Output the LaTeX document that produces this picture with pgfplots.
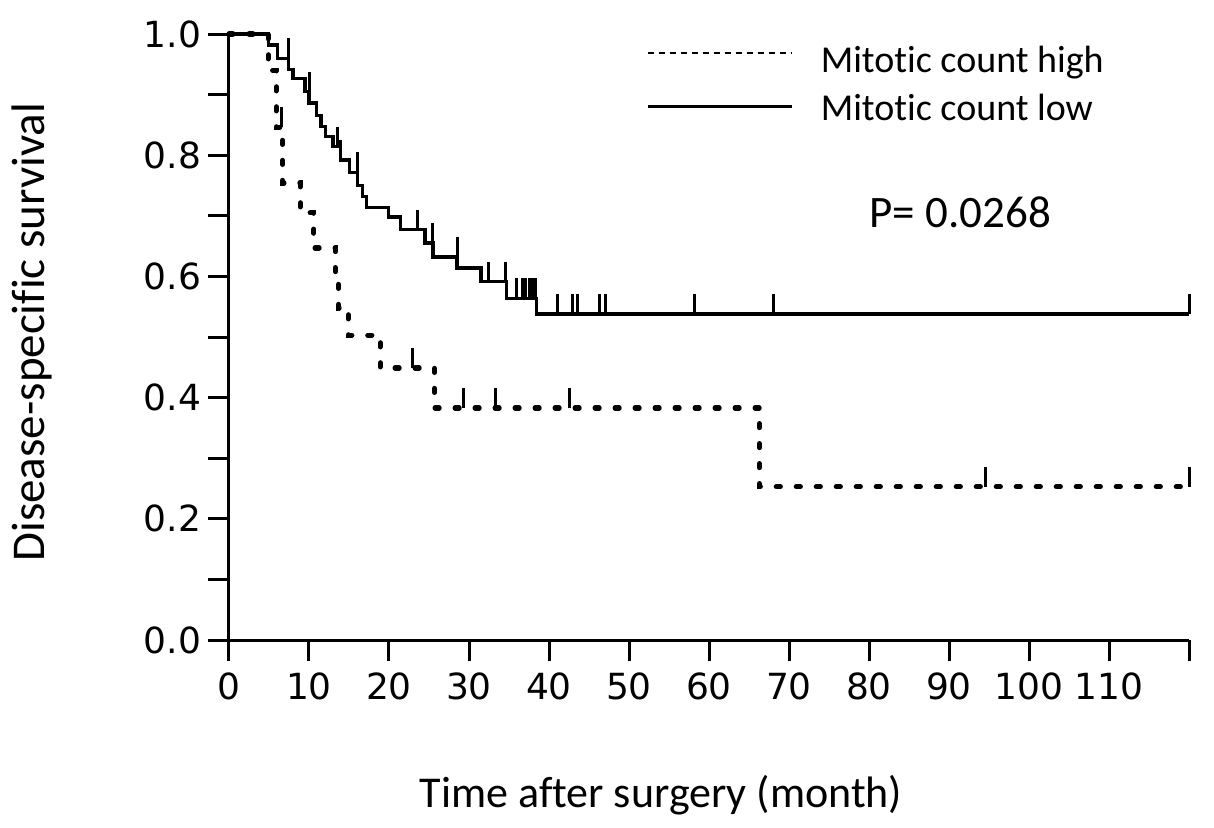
\documentclass[border=0pt]{standalone}
\usepackage{fontspec}
\setmainfont{Carlito}[Ligatures=NoCommon]
\newfontfamily\tickfont{DejaVu Sans}
\usepackage{pgfplots}
\pgfplotsset{compat=1.18}

% censoring tick: short vertical stroke upward from the curve
\pgfdeclareplotmark{cens}{%
  \pgfpathmoveto{\pgfpoint{0pt}{0pt}}%
  \pgfpathlineto{\pgfpoint{0pt}{10pt}}%
  \pgfusepathqstroke}

\begin{document}
\begin{tikzpicture}
\begin{axis}[
  scale only axis, width=480pt, height=303pt,
  xmin=0, xmax=120, ymin=0, ymax=1,
  axis lines*=left,
  axis line style={line width=1.5pt},
  clip=false,
  xtick={0,10,20,30,40,50,60,70,80,90,100,110,120},
  xticklabels={0,10,20,30,40,50,60,70,80,90,100,110,{}},
  ytick={0,0.1,0.2,0.3,0.4,0.5,0.6,0.7,0.8,0.9,1},
  yticklabels={0.0,,0.2,,0.4,,0.6,,0.8,,1.0},
  tick align=outside, major tick length=10.5pt,
  tick style={line width=1.5pt, black},
  ticklabel style={font=\tickfont\fontsize{18}{20}\selectfont},
  yticklabel style={anchor=east},
  xticklabel style={yshift=-2.5pt},
  xlabel={Time after surgery (month)},
  ylabel={Disease-specific survival},
  xlabel style={font=\fontsize{22}{24}\selectfont, at={([yshift=-83.5pt]axis description cs:0.45,0)}, anchor=base},
  ylabel style={font=\fontsize{23.5}{26}\selectfont, at={([xshift=-92pt]axis description cs:0,0.508)}, anchor=base},
  legend style={draw=none, fill=none, inner sep=0pt, anchor=north west,
    at={(axis cs:52.1,0.980)}, font=\fontsize{19}{21}\selectfont,
    nodes={inner sep=0pt}, column sep=14pt, row sep=9pt},
  legend cell align=left,
]
% Mitotic count low (solid)
\addplot[black, line width=1.6pt, const plot, forget plot] coordinates {
  (0,1.000) (4.9,0.982) (6.1,0.960) (7.4,0.942) (8.0,0.926) (9.5,0.905)
  (10.0,0.886) (10.9,0.866) (11.5,0.848) (12.1,0.831) (13.0,0.814)
  (13.9,0.792) (15.1,0.772) (16.1,0.750) (16.7,0.732) (17.2,0.714)
  (19.9,0.698) (21.4,0.677) (24.5,0.655) (25.5,0.632) (28.5,0.614)
  (31.5,0.591) (34.7,0.564) (38.4,0.538) (120,0.538)};
\addplot[black, only marks, mark=cens, mark options={line width=1.5pt}, forget plot] coordinates {
  (7.4,0.960) (10.1,0.905) (13.6,0.814) (14.0,0.792) (16.1,0.772)
  (23.6,0.677) (25.5,0.655) (28.5,0.632) (32.4,0.591) (34.6,0.591)
  (35.9,0.564) (36.7,0.564) (37.1,0.564) (37.5,0.564) (37.9,0.564) (38.3,0.564)
  (41.0,0.538) (42.9,0.538) (43.6,0.538) (46.3,0.538) (47.1,0.538)
  (58.2,0.538) (68.0,0.538) (120,0.538)};
% Mitotic count high (dashed)
\addplot[black, line width=2.6pt, dash pattern=on 2pt off 8pt, line cap=round, const plot, forget plot] coordinates {
  (0,1.000) (4.9,0.940) (5.9,0.846) (6.7,0.754) (8.9,0.705) (10.6,0.647)
  (13.3,0.597) (13.7,0.548) (14.9,0.503) (18.9,0.449) (25.7,0.383)
  (66.3,0.253) (120,0.253)};
\addplot[black, only marks, mark=cens, mark options={line width=1.5pt}, forget plot] coordinates {
  (6.6,0.846) (23.0,0.449) (29.3,0.383) (33.3,0.383) (42.6,0.383)
  (94.5,0.253) (120,0.253)};

\addlegendimage{legend image code/.code={\draw[black, line width=1pt, dash pattern=on 3pt off 2.5pt] (0pt,4pt) -- (72pt,4pt);}}
\addlegendentry{Mitotic count high}
\addlegendimage{legend image code/.code={\draw[black, line width=1.3pt] (0pt,1pt) -- (72pt,1pt);}}
\addlegendentry{Mitotic count low}

\node[font=\fontsize{22.5}{25}\selectfont, anchor=base] at (axis cs:91.4,0.680) {P= 0.0268};
\path ([xshift=-114.5pt,yshift=-93.5pt]rel axis cs:0,0) rectangle ([xshift=12.5pt,yshift=17pt]rel axis cs:1,1);
\end{axis}
\end{tikzpicture}
\end{document}
